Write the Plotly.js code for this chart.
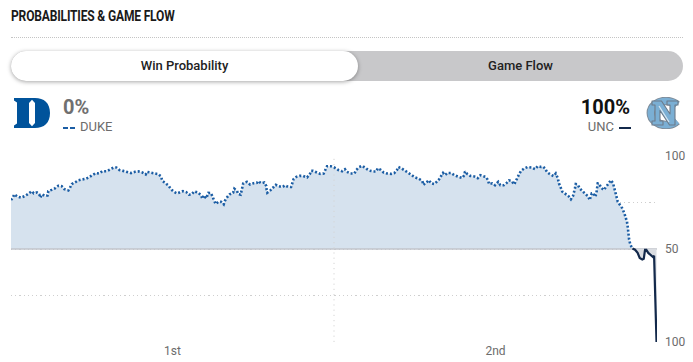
<!DOCTYPE html>
<html>
<head>
<meta charset="utf-8">
<script src="https://cdn.plot.ly/plotly-3.0.1.min.js"></script>
<style>
  html,body{margin:0;padding:0;background:#fff;width:693px;height:362px;overflow:hidden;font-family:Roboto,"Noto Sans",sans-serif;}
  #chart{position:absolute;left:0;top:0;width:693px;height:362px;}
  .abs{position:absolute;}
  #title{left:11px;top:8px;font-size:14px;font-weight:700;color:#1a1a1a;letter-spacing:-0.2px;transform:scaleX(0.86);transform-origin:left center;white-space:nowrap;}
  #rule{left:11px;top:37px;width:672px;height:0;border-top:1px dotted #c4c4c4;}
  #toggle{left:11px;top:51px;width:672px;height:30px;border-radius:15px;background:#c8c8ca;}
  #pill{left:11px;top:51px;width:347px;height:30px;border-radius:15px;background:#fff;box-shadow:0 1px 4px rgba(0,0,0,0.35);}
  .tog{top:51px;height:30px;line-height:30px;font-size:13px;font-weight:500;color:#222;text-align:center;}
  .pct{font-size:20px;font-weight:700;top:95px;}
  .team{font-size:13px;color:#6c6c6c;top:119px;}
</style>
</head>
<body>
<div id="chart"></div>
<div id="title" class="abs">PROBABILITIES &amp; GAME FLOW</div>
<div id="rule" class="abs"></div>
<div id="toggle" class="abs"></div>
<div id="pill" class="abs"></div>
<div class="abs tog" style="left:11px;width:347px;">Win Probability</div>
<div class="abs tog" style="left:358px;width:325px;">Game Flow</div>

<svg class="abs" style="left:14px;top:98px;" width="36" height="30" viewBox="0 0 36 30">
  <path d="M0,0 H21 C30,0 36,5 36,15 C36,25 30,30 21,30 H0 V27.5 L3,25.5 V4.5 L0,2.5 Z" fill="#00539b"/>
  <path d="M15,5 L18,1.8 L21,5 V25 L18,28.2 L15,25 Z" fill="#fff"/>
</svg>
<div class="abs pct" style="left:63px;color:#707070;">0%</div>
<div class="abs team" style="left:63px;"><span style="display:inline-block;width:5px;height:2px;background:#1b5da4;vertical-align:middle;margin-right:2px;"></span><span style="display:inline-block;width:5px;height:2px;background:#1b5da4;vertical-align:middle;margin-right:5px;"></span>DUKE</div>

<div class="abs pct" style="right:63px;color:#111;">100%</div>
<div class="abs team" style="right:62px;">UNC<span style="display:inline-block;width:12px;height:2px;background:#13294b;vertical-align:middle;margin-left:5px;"></span></div>
<svg class="abs" style="left:645px;top:97px;" width="39" height="32" viewBox="0 0 39 32">
  <path d="M32,8 A15,12 0 1 0 32,24" fill="none" stroke="#7f8c99" stroke-width="8.5"/>
  <path d="M32,8 A15,12 0 1 0 32,24" fill="none" stroke="#7bafd4" stroke-width="6.5"/>
  <path d="M7,4 H16.5 L25,17 V8 H22 V4 H33 V8 H30 V28 H24.5 L15,13.5 V24 H18 V28 H7 V24 H10 V8 H7 Z" fill="#7bafd4" stroke="#6d7b89" stroke-width="1.1" stroke-linejoin="round"/>
  <path d="M14,9 L24,25" stroke="#ffffff" stroke-width="1.2" opacity="0.7"/>
</svg>

<script>
// Duke win probability (%) by game minute
var dukeMinutes = [0,0.11,0.20,0.41,0.62,0.87,1.07,1.28,1.41,1.61,1.75,1.81,1.94,2.11,2.27,2.31,2.52,2.72,2.93,3.14,3.30,3.55,3.65,3.76,3.96,4.17,4.41,4.63,4.87,5.08,5.24,5.47,5.65,5.93,6.15,6.36,6.52,6.71,6.95,7.20,7.43,7.68,7.88,8.13,8.34,8.42,8.67,8.87,9.12,9.29,9.37,9.54,9.74,9.91,10.07,10.28,10.45,10.65,10.85,11.02,11.19,11.35,11.56,11.76,11.85,11.93,12.09,12.22,12.38,12.55,12.67,12.84,13.00,13.17,13.25,13.39,13.54,13.75,13.83,13.99,14.07,14.22,14.28,14.38,14.61,14.80,15.03,15.23,15.31,15.48,15.68,15.81,15.83,15.87,16.06,16.22,16.39,16.59,16.80,16.97,17.17,17.34,17.44,17.50,17.67,17.88,18.08,18.33,18.50,18.58,18.70,18.90,19.15,19.36,19.49,19.57,19.81,20.02,20.27,20.50,20.68,20.80,21.01,21.26,21.38,21.55,21.75,21.96,22.17,22.41,22.62,22.71,22.87,23.08,23.28,23.53,23.73,23.90,23.98,24.19,24.40,24.60,24.81,25.02,25.22,25.47,25.53,25.72,25.88,26.01,26.21,26.38,26.55,26.67,26.75,26.87,27.04,27.24,27.45,27.70,27.94,28.07,28.11,28.24,28.44,28.69,28.90,29.06,29.27,29.43,29.55,29.60,29.80,29.97,30.17,30.30,30.51,30.67,30.84,31.00,31.16,31.25,31.33,31.46,31.58,31.78,31.99,32.24,32.45,32.61,32.82,32.94,33.07,33.19,33.39,33.60,33.73,33.85,33.93,34.06,34.14,34.35,34.51,34.67,34.80,34.92,34.97,35.09,35.21,35.42,35.59,35.75,35.83,35.96,36.08,36.16,36.24,36.33,36.41,36.53,36.70,36.82,36.99,37.15,37.28,37.36,37.44,37.57,37.69,37.85,37.98,38.06,38.14,38.19,38.22,38.27,38.35,38.48];
var dukeProb = [76.3,77.6,79.4,78.1,77.6,78.5,79.7,81.1,79.9,80.4,79.4,77.6,79.4,78.5,78.8,81.1,81.8,82.6,84.0,83.8,82.2,81.5,82.9,84.9,85.8,86.9,87.4,87.7,88.8,89.9,90.8,90.6,91.8,91.8,92.7,93.8,93.8,92.5,92.0,91.5,90.8,91.5,91.7,91.1,90.1,91.5,91.1,90.4,90.2,89.0,86.6,85.6,84.2,82.2,80.8,79.9,80.6,81.1,80.6,79.2,79.4,81.0,80.4,79.0,77.0,78.8,77.2,80.2,80.1,76.3,74.2,75.4,75.4,74.0,76.0,77.9,79.4,80.2,82.4,81.3,79.5,79.2,81.3,85.3,86.1,84.7,85.4,85.6,86.5,85.3,85.8,83.8,81.7,80.2,81.5,82.9,84.5,83.7,83.3,84.2,83.3,83.3,85.8,87.6,88.8,89.3,89.3,88.5,90.1,92.0,92.0,91.1,90.4,90.6,92.7,94.5,94.5,93.8,92.5,91.8,92.9,91.5,90.6,90.6,92.5,94.0,94.7,93.4,92.2,91.7,91.7,93.4,92.7,91.1,90.6,90.4,90.8,92.5,94.1,93.3,92.0,90.8,89.5,88.5,87.9,86.6,84.5,85.8,87.0,85.3,84.9,86.3,87.9,89.9,90.9,89.7,90.9,90.9,89.7,88.8,88.2,89.7,91.7,90.4,89.3,89.0,88.1,89.7,89.3,88.6,86.6,84.9,85.3,84.3,86.1,84.3,84.3,85.3,86.9,86.5,84.7,86.6,88.1,90.2,92.0,93.3,94.1,93.8,92.9,94.5,94.1,94.3,93.3,91.3,90.1,89.2,90.6,88.3,85.3,82.6,80.8,79.5,78.5,76.7,78.5,82.6,84.9,84.7,82.6,80.8,79.5,78.1,76.3,79.9,79.9,78.1,79.5,85.3,85.3,83.1,81.7,83.1,85.3,87.0,85.3,83.1,79.9,75.4,73.7,71.9,69.2,67.4,64.7,61.8,58.5,55.3,52.3,50.3];
// Late stretch where UNC is favoured (same scale: Duke probability %)
var uncMinutes = [38.48,38.64,38.80,38.93,39.09,39.18,39.26,39.34,39.46,39.63,39.75,39.82,39.97];
var uncProb = [50.3,49.6,47.9,45.2,44.3,44.7,49.6,49.6,47.9,46.4,45.7,46.4,0];

var gameRange = [0, 40];
var halfLabels = ['1st', '2nd'];
var halfCenters = [10, 30];
var halftime = 20;
var probTicks = [0, 25, 50, 75, 100];
var probTickText = ['100', '', '50', '', '100'];

var n = Math.min(dukeMinutes.length, dukeProb.length);
var dukeX = dukeMinutes.slice(0, n), dukeY = dukeProb.slice(0, n);

var traces = [
  {x: gameRange, y: [50, 50], mode: 'lines', line: {color: '#c2c5cb', width: 1.5}, hoverinfo: 'skip', showlegend: false},
  {x: dukeX, y: dukeY, mode: 'lines', fill: 'tonexty', fillcolor: '#d6e2ee',
   line: {color: '#1b5da4', width: 2.6, dash: '2px,2px'}, hoverinfo: 'skip', showlegend: false},
  {x: [uncMinutes[0], uncMinutes[uncMinutes.length - 1]], y: [50, 50], mode: 'lines', line: {color: 'rgba(0,0,0,0)', width: 0}, hoverinfo: 'skip', showlegend: false},
  {x: uncMinutes, y: uncProb, mode: 'lines', fill: 'tonexty', fillcolor: '#d9dce1',
   line: {color: '#13294b', width: 2.2}, hoverinfo: 'skip', showlegend: false}
];

var layout = {
  width: 693, height: 362,
  margin: {l: 11, r: 36, t: 156, b: 20, pad: 0},
  paper_bgcolor: 'rgba(0,0,0,0)', plot_bgcolor: 'rgba(0,0,0,0)',
  font: {family: 'Roboto, sans-serif', size: 12, color: '#6c6c6c'},
  showlegend: false,
  xaxis: {range: gameRange, tickvals: halfCenters, ticktext: halfLabels, showgrid: false, zeroline: false,
          showline: false, ticks: '', fixedrange: true, tickfont: {size: 12, color: '#6c6c6c'}},
  yaxis: {range: [0, 100], side: 'right', tickvals: probTicks, ticktext: probTickText, showgrid: true,
          gridcolor: '#cfcfcf', gridwidth: 1, griddash: '1.2px,3px', zeroline: false, showline: false,
          ticks: '', ticklabelstandoff: 7, tickfont: {size: 12, color: '#6c6c6c'}, fixedrange: true},
  shapes: [{type: 'line', xref: 'x', yref: 'paper', x0: halftime, x1: halftime, y0: 0, y1: 1,
            line: {color: '#d4d4d4', width: 1, dash: '1.2px,4px'}, layer: 'above'}]
};

Plotly.newPlot('chart', traces, layout, {staticPlot: true, displayModeBar: false});
</script>
</body>
</html>
